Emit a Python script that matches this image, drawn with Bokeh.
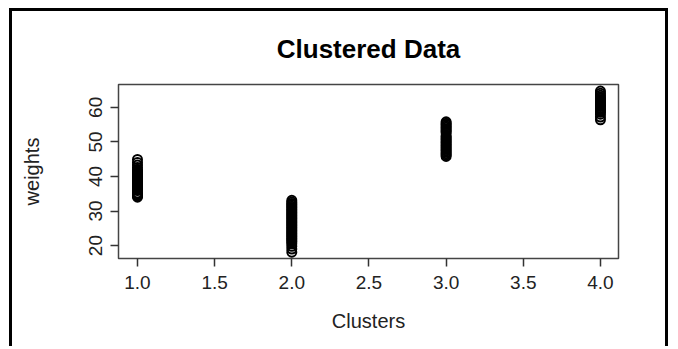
from bokeh.plotting import figure
from bokeh.models import Range1d, FixedTicker, NumeralTickFormatter
from bokeh.embed import file_html
from bokeh.resources import INLINE

# data
w_cluster1 = [34.0, 34.3, 34.6, 35.0, 35.2, 35.9, 36.2, 36.5, 36.8, 37.0, 37.3, 37.6,
              37.9, 38.1, 38.4, 38.7, 39.0, 39.2, 39.5, 39.8, 40.1, 40.4, 40.7, 41.0,
              41.3, 41.6, 42.0, 42.6, 43.3, 44.0, 44.9]
w_cluster2 = [18.1, 19.0, 19.8, 20.5, 21.0, 21.4, 21.8, 22.2, 22.6, 23.0, 23.4, 23.8,
              24.2, 24.6, 25.0, 25.4, 25.8, 26.2, 26.6, 27.0, 27.4, 27.8, 28.2, 28.6,
              29.0, 29.4, 29.8, 30.2, 30.6, 31.0, 31.4, 31.8, 32.2, 32.6, 33.1]
w_cluster3 = [45.8, 46.2, 46.6, 47.0, 47.4, 47.8, 48.2, 48.6, 49.0, 49.4, 49.8, 50.2,
              50.6, 51.0, 51.4, 51.8, 52.6, 53.0, 53.4, 53.8, 54.2, 54.6, 55.0, 55.4, 55.8]
w_cluster4 = [56.4, 57.2, 58.0, 58.6, 59.0, 59.4, 59.8, 60.2, 60.6, 61.0, 61.4, 61.8,
              62.2, 62.6, 63.0, 63.5, 64.1, 64.7]
cluster_ids = [1, 2, 3, 4]
x_ticks = [1.0, 1.5, 2.0, 2.5, 3.0, 3.5, 4.0]
y_ticks = [20, 30, 40, 50, 60]

groups = [w_cluster1, w_cluster2, w_cluster3, w_cluster4]
xs, ys = [], []
for cid, w in zip(cluster_ids, groups):
    xs += [cid] * len(w)
    ys += w

FONT = "Liberation Sans"

p = figure(width=659, height=338, output_backend="svg", toolbar_location=None,
           x_range=Range1d(0.877, 4.117), y_range=Range1d(16.26, 66.6),
           min_border_left=106, min_border_right=53, min_border_top=72,
           min_border_bottom=91, title="Clustered Data")
p.styles = {"border": "3px solid black", "border-bottom": "none",
            "margin-left": "9px", "margin-top": "8px"}
p.xgrid.visible = False
p.ygrid.visible = False
p.outline_line_color = "#444444"
p.outline_line_width = 1.5

p.title.align = "center"
p.title.text_font = FONT
p.title.text_font_size = "26px"
p.title.text_font_style = "bold"
p.title.text_color = "black"
p.title.standoff = 41

p.scatter(xs, ys, marker="circle", size=9, fill_color=None, line_color="black",
          line_width=2)

for ax in (p.xaxis[0], p.yaxis[0]):
    ax.axis_line_color = None
    ax.major_tick_line_color = "#333333"
    ax.major_tick_line_width = 1.5
    ax.major_tick_out = 8
    ax.major_tick_in = 0
    ax.minor_tick_line_color = None
    ax.major_label_text_font = FONT
    ax.major_label_text_font_size = "19px"
    ax.major_label_text_color = "#222222"
    ax.axis_label_text_font = FONT
    ax.axis_label_text_font_size = "20px"
    ax.axis_label_text_font_style = "normal"
    ax.axis_label_text_color = "#222222"

p.xaxis.ticker = FixedTicker(ticks=x_ticks)
p.xaxis.formatter = NumeralTickFormatter(format="0.0")
p.xaxis.axis_label = "Clusters"
p.xaxis.major_label_standoff = 9
p.xaxis.axis_label_standoff = 18

p.yaxis.ticker = FixedTicker(ticks=y_ticks)
p.yaxis.major_label_orientation = "vertical"
p.yaxis.axis_label = "weights"
p.yaxis.major_label_standoff = 8
p.yaxis.axis_label_standoff = 44

open("out.html", "w").write(file_html(p, INLINE))
